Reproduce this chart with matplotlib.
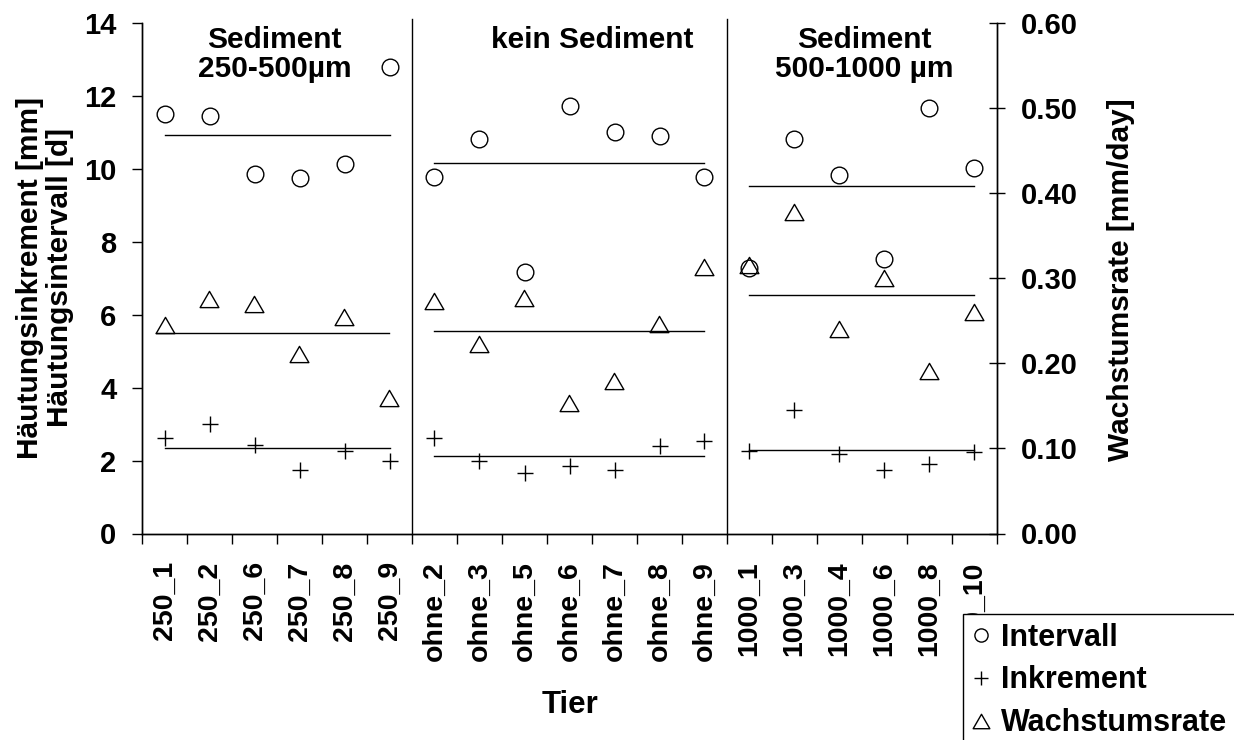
import numpy as np
import matplotlib
matplotlib.use("Agg")
import matplotlib.pyplot as plt
from matplotlib.lines import Line2D
from matplotlib.path import Path

plt.rcParams['font.family'] = ['Liberation Sans', 'DejaVu Sans']
plt.rcParams['font.weight'] = 'bold'

# ---- data ----
categories = ["250_1", "250_2", "250_6", "250_7", "250_8", "250_9",
              "ohne_2", "ohne_3", "ohne_5", "ohne_6", "ohne_7", "ohne_8", "ohne_9",
              "1000_1", "1000_3", "1000_4", "1000_6", "1000_8", "1000_10"]
group_sizes = [6, 7, 6]
group_titles = ["Sediment\n250-500µm", "kein Sediment", "Sediment\n500-1000 µm"]
group_title_x = [2.45, 9.5, 15.55]

intervall = [11.51, 11.45, 9.86, 9.75, 10.14, 12.78,
             9.79, 10.82, 7.17, 11.73, 11.02, 10.89, 9.79,
             7.28, 10.82, 9.84, 7.53, 11.68, 10.02]
inkrement = [2.63, 3.00, 2.43, 1.73, 2.27, 2.00,
             2.61, 2.00, 1.65, 1.86, 1.75, 2.39, 2.54,
             2.27, 3.39, 2.17, 1.75, 1.90, 2.24]
wachstumsrate = [0.245, 0.276, 0.270, 0.211, 0.255, 0.159,
                 0.273, 0.223, 0.277, 0.153, 0.179, 0.246, 0.313,
                 0.316, 0.378, 0.240, 0.300, 0.191, 0.260]

left_ticks = [0, 2, 4, 6, 8, 10, 12, 14]
right_ticks = [0.0, 0.1, 0.2, 0.3, 0.4, 0.5, 0.6]

# ---- figure ----
W, H = 1234, 740
fig = plt.figure(figsize=(W / 100, H / 100), dpi=100)
ax_top, ax_bot = 23, 533.5
ax = fig.add_axes([142 / W, 1 - ax_bot / H, (997 - 142) / W, (ax_bot - ax_top) / H])
ax2 = ax.twinx()

x = np.arange(len(categories))
tri = Path([(-1, -0.866), (1, -0.866), (0, 0.866), (-1, -0.866)],
           [Path.MOVETO, Path.LINETO, Path.LINETO, Path.CLOSEPOLY])

ax.plot(x, intervall, linestyle='none', marker='o', markersize=12,
        markerfacecolor='none', markeredgecolor='black', markeredgewidth=1.0, zorder=3)
ax.plot(x, inkrement, linestyle='none', marker='+', markersize=11,
        markeredgecolor='black', markeredgewidth=1.0, zorder=3)
ax2.plot(x, wachstumsrate, linestyle='none', marker=tri, markersize=13.5,
         markerfacecolor='none', markeredgecolor='black', markeredgewidth=1.0, zorder=3)

# group means
start = 0
for n in group_sizes:
    idx = slice(start, start + n)
    x0, x1 = start, start + n - 1
    ax.plot([x0, x1], [np.mean(intervall[idx])] * 2, color='black', lw=1.0)
    ax.plot([x0, x1], [np.mean(inkrement[idx])] * 2, color='black', lw=1.0)
    ax2.plot([x0 - 0.2 if start == 0 else x0, x1], [np.mean(wachstumsrate[idx])] * 2,
             color='black', lw=1.0)
    start += n

# separators
bounds = np.cumsum(group_sizes)[:-1] - 0.5
for b in bounds:
    ax.plot([b, b], [0, 14.12], color='black', lw=1.0, clip_on=False, zorder=2)

# group titles
for tx, tt in zip(group_title_x, group_titles):
    ax.text(tx, 13.93, tt, ha='center', va='top', fontsize=21.5,
            fontweight='bold', linespacing=1.05)

# axes styling
ax.set_xlim(-0.5, len(categories) - 0.5)
ax.set_ylim(0, 14)
ax2.set_ylim(0, 0.6)
ax.set_yticks(left_ticks)
ax.set_yticklabels([str(t) for t in left_ticks])
ax2.set_yticks(right_ticks)
ax2.set_yticklabels([f"{t:.2f}" for t in right_ticks])
ax.set_xticks(x)
ax.set_xticklabels(categories, rotation=90, va='top', ha='center')
ax.set_xticks(np.arange(-0.5, len(categories), 1.0), minor=True)
ax.tick_params(axis='x', which='major', length=0, pad=20, labelsize=20.5)
ax.tick_params(axis='x', which='minor', length=7, width=1.0, direction='out')
ax.tick_params(axis='y', length=7.5, width=1.0, direction='out', pad=11, labelsize=21)
ax2.tick_params(axis='y', length=12, width=1.0, direction='inout', pad=11, labelsize=21)
for a in (ax, ax2):
    a.spines['top'].set_visible(False)
    for s in ('left', 'right', 'bottom'):
        a.spines[s].set_linewidth(1.0)
        a.spines[s].set_color('black')

# axis labels
fig.text(45 / W, 1 - 278 / H, "Häutungsinkrement [mm]\nHäutungsintervall [d]",
         rotation=90, ha='center', va='center', fontsize=21.5, fontweight='bold',
         multialignment='center', linespacing=1.05)
fig.text(1121 / W, 1 - 280 / H, "Wachstumsrate [mm/day]", rotation=90,
         ha='center', va='center', fontsize=21.5, fontweight='bold')
fig.text(570 / W, 1 - 705 / H, "Tier", ha='center', va='center',
         fontsize=22.5, fontweight='bold')

# legend (frame runs past the right and bottom edges, as in the reference)
handles = [
    Line2D([], [], linestyle='none', marker='o', markersize=9.5, markerfacecolor='none',
           markeredgecolor='black', markeredgewidth=1.0),
    Line2D([], [], linestyle='none', marker='+', markersize=9.5,
           markeredgecolor='black', markeredgewidth=1.0),
    Line2D([], [], linestyle='none', marker=tri, markersize=12, markerfacecolor='none',
           markeredgecolor='black', markeredgewidth=1.0),
]
leg = fig.legend(handles, ["Intervall", "Inkrement", "Wachstumsrate"],
                 loc='upper left', mode='expand',
                 bbox_to_anchor=(963 / W, 0, 290 / W, 1 - 614 / H),
                 fontsize=22, frameon=True, fancybox=False, framealpha=1.0,
                 borderpad=0.28, handlelength=0.6, handletextpad=0.36,
                 labelspacing=0.42, borderaxespad=0)
leg.get_frame().set_edgecolor('black')
leg.get_frame().set_linewidth(1.0)
for t in leg.get_texts():
    t.set_fontweight('bold')

fig.savefig("out.png", dpi=100)
